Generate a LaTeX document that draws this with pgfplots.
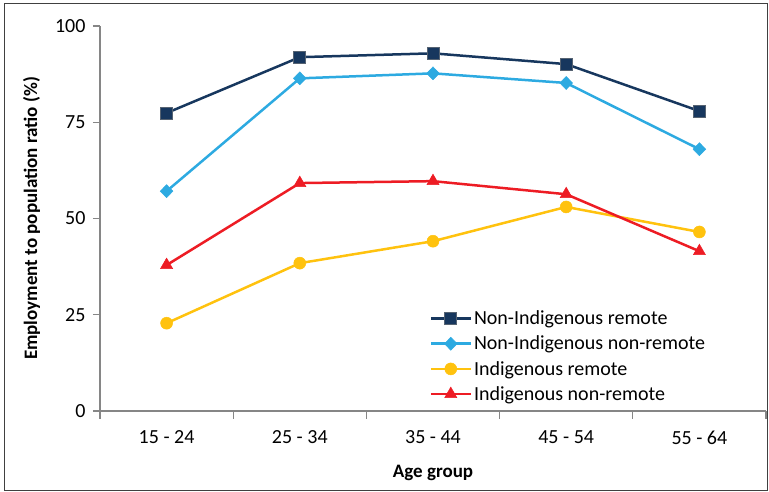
\documentclass[border=0pt]{standalone}
\usepackage{pgfplots}
\pgfplotsset{compat=1.18}
\usepackage{fontspec}
\setmainfont{Carlito}
\definecolor{navy}{HTML}{17375E}
\definecolor{sky}{HTML}{2DAAE1}
\definecolor{gold}{HTML}{FFC20E}
\definecolor{redl}{HTML}{ED1C24}
\definecolor{axgray}{HTML}{868686}
\begin{document}
\begin{tikzpicture}[x=1pt,y=1pt]
\useasboundingbox (-100,-81) rectangle (669,411);
\draw[black!75, line width=0.8pt] (-96,-79) rectangle (667,408);
\begin{axis}[
  at={(0,0)}, anchor=south west,
  scale only axis, width=666pt, height=385pt,
  xmin=0.5, xmax=5.5, ymin=0, ymax=100,
  axis lines=left,
  axis line style={-, axgray, line width=1.5pt},
  ytick={0,25,50,75,100},
  xtick={1,2,3,4,5},
  xticklabels={15 - 24, 25 - 34, 35 - 44, 45 - 54, 55 - 64},
  minor xtick={0.5,1.5,2.5,3.5,4.5,5.5},
  major x tick style={draw=none},
  tick align=outside,
  major tick length=7pt, minor tick length=8pt,
  minor tick style={axgray, line width=1.2pt},
  major tick style={axgray, line width=1.2pt},
  ticklabel style={font=\fontsize{20}{24}\selectfont},
  yticklabel style={xshift=-4pt},
  xticklabel style={yshift=-9pt},
  /pgf/number format/assume math mode=true,
  xlabel={\bfseries Age group},
  ylabel={\bfseries Employment to population ratio (\%)},
  label style={font=\fontsize{19}{23}\selectfont},
  xlabel style={yshift=-14pt},
  ylabel style={yshift=8pt},
  legend style={at={(axis cs:2.95,27.1)}, anchor=north west, draw=none, fill=none,
    font=\fontsize{20}{24}\selectfont, row sep=5.8pt,
    legend cell align=left},
  legend image code/.code={\draw[mark repeat=2, mark phase=2] plot coordinates {(0pt,0pt)(20pt,0pt)(40pt,0pt)};},
  every axis plot/.append style={line width=2.5pt},
]
\addplot[navy, mark=square*, mark size=6pt, mark options={draw=gray!60!navy, line width=0.8pt}]
  coordinates {(1,77.4)(2,91.9)(3,92.9)(4,90.1)(5,77.9)};
\addlegendentry{Non-Indigenous remote}
\addplot[sky, mark=diamond*, mark size=6.5pt, mark options={line width=0.5pt, xscale=1.3}]
  coordinates {(1,57.1)(2,86.4)(3,87.7)(4,85.2)(5,68.0)};
\addlegendentry{Non-Indigenous non-remote}
\addplot[gold, mark=*, mark size=6pt, mark options={line width=0.5pt}]
  coordinates {(1,22.8)(2,38.4)(3,44.1)(4,53.0)(5,46.5)};
\addlegendentry{Indigenous remote}
\addplot[redl, mark=triangle*, mark size=7pt, mark options={line width=0.5pt}]
  coordinates {(1,37.9)(2,59.2)(3,59.7)(4,56.3)(5,41.5)};
\addlegendentry{Indigenous non-remote}
\end{axis}
\end{tikzpicture}
\end{document}
